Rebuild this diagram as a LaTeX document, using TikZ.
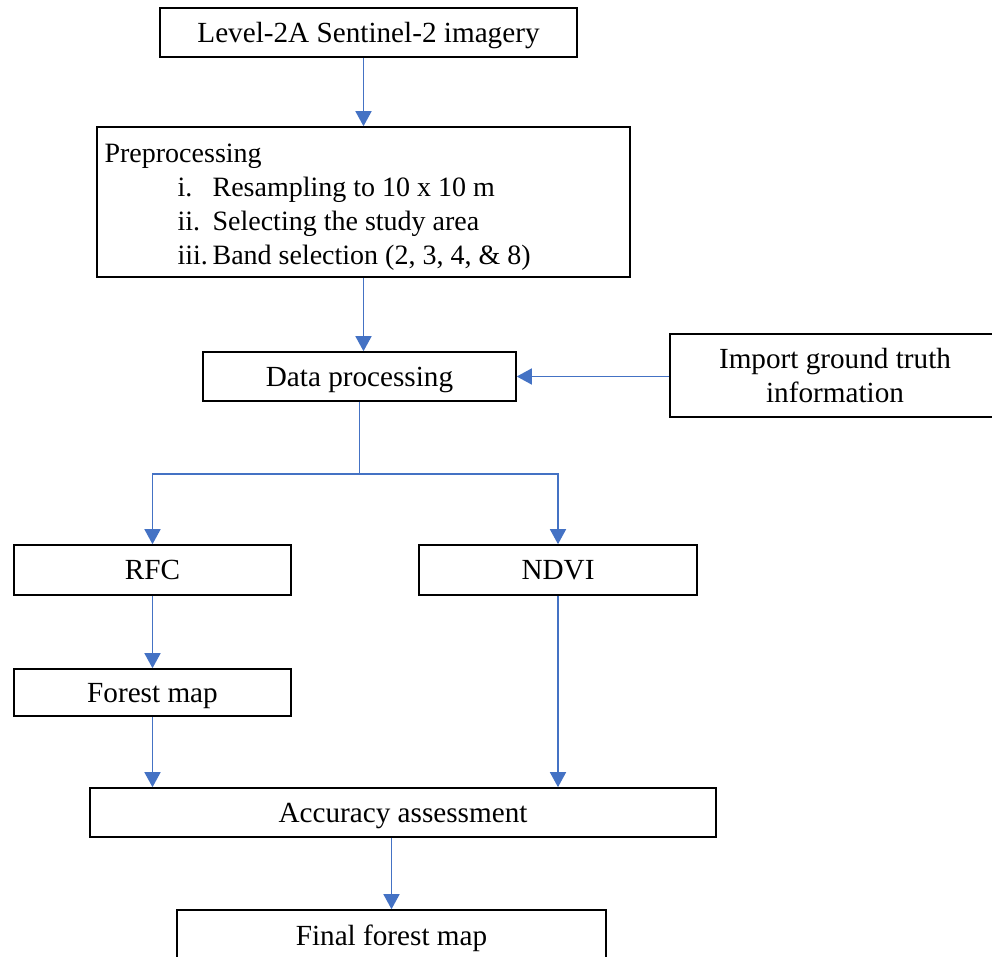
\documentclass[tikz,border=0pt]{standalone}
\usepackage{fontspec}
\setmainfont{Liberation Serif}
\usepackage{xcolor}
\usetikzlibrary{positioning,calc,arrows.meta}
\definecolor{flowblue}{RGB}{68,114,196}
\tikzset{
	stepbox/.style={draw, line width=0.8pt, inner sep=0pt, align=center, text depth=0pt, font=\fontsize{14.6}{17}\selectfont},
	flow/.style={draw=flowblue, line width=0.75pt, -{Triangle[width=8pt,length=7.5pt]}}
}
\newcommand{\prepitem}[2]{\hspace*{36.5pt}\makebox[17.5pt][l]{#1}#2}

\begin{document}
\begin{tikzpicture}[x=0.5pt,y=-0.5pt]
			\useasboundingbox (0,0) rectangle (992,957);
			\clip (0,0) rectangle (992,957);
			\node[stepbox, minimum width=208.5pt, minimum height=24.5pt] (sentinel) at (368.5,32.5) {Level-2A Sentinel-2 imagery};
			\node[stepbox, minimum width=266.5pt, minimum height=75pt] (prep) at (363.5,202) {};
			\node[anchor=north west, inner sep=0pt, align=left, font=\fontsize{14}{17}\selectfont] (preptext) at ([xshift=4pt,yshift=-8.8pt]prep.north west) {Preprocessing\\
				\prepitem{i.}{Resampling to 10 x 10 m}\\
				\prepitem{ii.}{Selecting the study area}\\
				\prepitem{iii.}{Band selection (2, 3, 4, \& 8)}};
			\node[stepbox, minimum width=156.5pt, minimum height=24.5pt] (data) at (359.5,376.5) {Data processing};
			\node[stepbox, minimum width=165pt, minimum height=41.5pt] (truth) at (835,375.5) {Import ground truth\\information};
			\node[stepbox, minimum width=138.5pt, minimum height=25pt] (rfc) at (152.5,570) {RFC};
			\node[stepbox, minimum width=139pt, minimum height=25pt] (ndvi) at (558,570) {NDVI};
			\node[stepbox, minimum width=138.5pt, minimum height=23.5pt] (forest) at (152.5,692.5) {Forest map};
			\node[stepbox, minimum width=313pt, minimum height=24.5pt] (accuracy) at (403,812.5) {Accuracy assessment};
			\node[stepbox, minimum width=214.5pt, minimum height=25pt] (final) at (391.5,935) {Final forest map};
			\draw[flow] (sentinel.south -| prep.north) -- (prep.north);
			\draw[flow] (prep.south) -- (prep.south |- data.north);
			\draw[flow] (truth.west |- data.east) -- (data.east);
			\draw[flow] (data.south) -- ++(0,72) -| (rfc.north);
			\draw[flow] (data.south) -- ++(0,72) -| (ndvi.north);
			\draw[flow] (rfc.south) -- (forest.north);
			\draw[flow] (forest.south) -- (forest.south |- accuracy.north);
			\draw[flow] (ndvi.south) -- (ndvi.south |- accuracy.north);
			\draw[flow] (accuracy.south -| final.north) -- (final.north);
		\end{tikzpicture}
\end{document}
